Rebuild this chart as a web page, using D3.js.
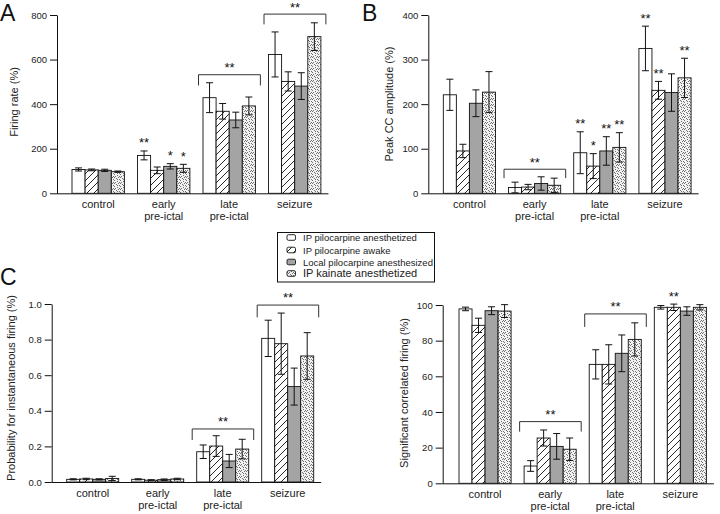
<!DOCTYPE html>
<html><head><meta charset="utf-8">
<script src="https://cdn.jsdelivr.net/npm/d3@7"></script>
<style>body{margin:0;background:#fff}svg{display:block;font-family:"Liberation Sans",Arial,Helvetica,sans-serif}</style>
</head><body>
<svg id="chart" width="720" height="514"></svg>
<script>
// ---------- data ----------
const categories = [["control"], ["early", "pre-ictal"], ["late", "pre-ictal"], ["seizure"]];
const seriesNames = ["IP pilocarpine anesthetized", "IP pilocarpine awake", "Local pilocarpine anesthesized", "IP kainate anesthetized"];

// Panel A: Firing rate (%)
const firingRate    = [[107, 105, 103, 97], [170, 103, 121, 112], [429, 368, 329, 392], [623, 502, 481, 703]];
const firingRateErr = [[7, 4, 5, 3], [20, 15, 12, 18], [67, 35, 35, 40], [101, 43, 60, 62]];
const firingRateTicks = [0, 200, 400, 600, 800];
const firingRateStars = [["", "", "", ""], ["**", "", "*", "*"], ["", "", "", ""], ["", "", "", ""]];
const firingRateBrackets = [{group: 2, top: 532, leg: 484}, {group: 3, top: 804, leg: 758}];

// Panel B: Peak CC amplitude (%)
const peakCC    = [[221, 95, 202, 227], [13, 14, 22, 18], [91, 61, 95, 103], [325, 231, 226, 259]];
const peakCCErr = [[35, 15, 30, 46], [12, 6, 15, 16], [47, 28, 32, 33], [50, 20, 42, 44]];
const peakCCTicks = [0, 100, 200, 300, 400];
const peakCCStars = [["", "", "", ""], ["", "", "", ""], ["**", "*", "**", "**"], ["**", "**", "", "**"]];
const peakCCBrackets = [{group: 1, top: 54, leg: 34}];

// Panel C left: Probability for instantaneous firing
const probInst    = [[0.015, 0.017, 0.015, 0.020], [0.015, 0.010, 0.013, 0.017], [0.170, 0.202, 0.118, 0.185], [0.807, 0.777, 0.536, 0.708]];
const probInstErr = [[0.003, 0.004, 0.003, 0.012], [0.003, 0.003, 0.004, 0.004], [0.038, 0.058, 0.037, 0.055], [0.102, 0.172, 0.104, 0.131]];
const probInstTicks = [0, 0.2, 0.4, 0.6, 0.8, 1.0];
const probInstStars = [["", "", "", ""], ["", "", "", ""], ["", "", "", ""], ["", "", "", ""]];
const probInstBrackets = [{group: 2, top: 0.298, leg: 0.236}, {group: 3, top: 0.994, leg: 0.925}];

// Panel C right: Significant correlated firing (%)
const sigCorr    = [[97.8, 88.6, 96.8, 96.6], [9.7, 25.4, 20.7, 19.1], [66.7, 66.7, 72.9, 80.7], [98.7, 98.7, 96.6, 98.7]];
const sigCorrErr = [[1, 4, 2.2, 3.6], [3, 4.5, 7.2, 6.3], [8.2, 11, 10.3, 9.3], [1, 1.8, 2.4, 1.5]];
const sigCorrTicks = [0, 20, 40, 60, 80, 100];
const sigCorrStars = [["", "", "", ""], ["", "", "", ""], ["", "", "", ""], ["", "**", "", ""]];
const sigCorrBrackets = [{group: 1, top: 34.6, leg: 29}, {group: 2, top: 95, leg: 87.7}];

// ---------- drawing ----------
const svg = d3.select("#chart");
const defs = svg.append("defs");

const hatch = defs.append("pattern").attr("id", "hatch")
  .attr("patternUnits", "userSpaceOnUse").attr("width", 7).attr("height", 7);
hatch.append("rect").attr("width", 7).attr("height", 7).attr("fill", "#fff");
hatch.append("path").attr("d", "M-1.75,1.75 L1.75,-1.75 M0,7 L7,0 M5.25,8.75 L8.75,5.25")
  .attr("stroke", "#111").attr("stroke-width", 0.9);

const dots = defs.append("pattern").attr("id", "dots")
  .attr("patternUnits", "userSpaceOnUse").attr("width", 6).attr("height", 6);
dots.append("rect").attr("width", 6).attr("height", 6).attr("fill", "#f2f2f2");
[[0, 0], [3, 1], [1, 2], [4, 3], [2, 4], [5, 5], [0, 3], [3, 5], [5, 2]].forEach(([dx, dy]) =>
  dots.append("rect").attr("x", dx).attr("y", dy).attr("width", 1).attr("height", 1).attr("fill", "#707070"));

const fills = ["#ffffff", "url(#hatch)", "#a4a4a4", "url(#dots)"];

function drawPanel(p) {
  const g = svg.append("g");
  const y = d3.scaleLinear().domain([0, p.yMax]).range([p.y0, p.yTop]);
  const x = d3.scaleBand().domain(d3.range(categories.length)).range(p.xr).paddingInner(0.2).paddingOuter(0.1);
  const xs = d3.scaleBand().domain(d3.range(seriesNames.length)).range([0, x.bandwidth()]);

  // y axis
  const ya = g.append("g").attr("transform", `translate(${p.ax},0)`)
    .call(d3.axisLeft(y).tickValues(p.ticks).tickFormat(p.fmt).tickSize(7).tickPadding(3).tickSizeOuter(0));
  ya.selectAll("text").attr("font-size", 9.5).attr("fill", "#222").attr("font-family", "Liberation Sans, Arial, sans-serif");
  ya.selectAll("line,path").attr("stroke", "#111");
  // x axis line
  g.append("line").attr("x1", p.ax).attr("x2", p.xr[1] + 1).attr("y1", y(0) + 0.5).attr("y2", y(0) + 0.5)
    .attr("stroke", "#111").attr("stroke-width", 1);

  // category labels
  categories.forEach((lines, i) => {
    const t = g.append("text").attr("text-anchor", "middle").attr("font-size", 11).attr("fill", "#222")
      .attr("x", x(i) + x.bandwidth() / 2).attr("y", y(0) + 15);
    lines.forEach((l, k) => t.append("tspan").attr("x", x(i) + x.bandwidth() / 2).attr("dy", k ? 12 : 0).text(l));
  });

  // y title
  g.append("text").attr("transform", `translate(${p.tx},${p.ty}) rotate(-90)`)
    .attr("text-anchor", "middle").attr("font-size", 11).attr("fill", "#222").text(p.title);

  // bars
  p.values.forEach((row, i) => {
    row.forEach((v, j) => {
      const bx = x(i) + xs(j);
      g.append("rect").attr("x", bx).attr("y", y(v)).attr("width", xs.bandwidth()).attr("height", y(0) - y(v))
        .attr("fill", fills[j]).attr("stroke", "#111").attr("stroke-width", 0.9);
    });
  });
  // error bars
  p.values.forEach((row, i) => {
    row.forEach((v, j) => {
      const cx = x(i) + xs(j) + xs.bandwidth() / 2;
      const e = p.errors[i][j];
      const y1 = y(v + e), y2 = y(v - e);
      const eb = g.append("g").attr("stroke", "#111").attr("stroke-width", 1);
      eb.append("line").attr("x1", cx).attr("x2", cx).attr("y1", y1).attr("y2", y2);
      eb.append("line").attr("x1", cx - 3.5).attr("x2", cx + 3.5).attr("y1", y1).attr("y2", y1);
      eb.append("line").attr("x1", cx - 3.5).attr("x2", cx + 3.5).attr("y1", y2).attr("y2", y2);
      const s = p.stars[i][j];
      if (s) g.append("text").attr("x", cx).attr("y", y1 - 3.6).attr("text-anchor", "middle")
        .attr("font-size", 13).attr("fill", "#111").text(s);
    });
  });
  // brackets
  p.brackets.forEach(b => {
    const x1 = x(b.group) - 4.5, x2 = x(b.group) + x.bandwidth() + 5;
    g.append("path").attr("d", `M${x1},${y(b.leg)}V${y(b.top)}H${x2}V${y(b.leg)}`)
      .attr("fill", "none").attr("stroke", "#333").attr("stroke-width", 1);
    g.append("text").attr("x", (x1 + x2) / 2).attr("y", y(b.top) - 2.6).attr("text-anchor", "middle")
      .attr("font-size", 13).attr("fill", "#111").text("**");
  });
  // panel letter
  if (p.letter) svg.append("text").attr("x", p.letter[1]).attr("y", p.letter[2]).attr("font-size", 23)
    .attr("fill", "#111").text(p.letter[0]);
}

const intFmt = d3.format("d");
drawPanel({values: firingRate, errors: firingRateErr, stars: firingRateStars, brackets: firingRateBrackets,
  yMax: 800, ticks: firingRateTicks, fmt: intFmt, y0: 193.3, yTop: 15, ax: 57, xr: [65.45, 327.45],
  title: "Firing rate (%)", tx: 18, ty: 102, letter: ["A", 0, 21]});
drawPanel({values: peakCC, errors: peakCCErr, stars: peakCCStars, brackets: peakCCBrackets,
  yMax: 400, ticks: peakCCTicks, fmt: intFmt, y0: 193.3, yTop: 15, ax: 428.3, xr: [436.8, 697.6],
  title: "Peak CC amplitude (%)", tx: 393, ty: 104, letter: ["B", 362, 21]});
drawPanel({values: probInst, errors: probInstErr, stars: probInstStars, brackets: probInstBrackets,
  yMax: 1.0, ticks: probInstTicks, fmt: d3.format(".1f"), y0: 482, yTop: 304, ax: 51.7, xr: [60.2, 320.2],
  title: "Probability for instantaneous firing (%)", tx: 14.5, ty: 388, letter: ["C", 0, 285]});
drawPanel({values: sigCorr, errors: sigCorrErr, stars: sigCorrStars, brackets: sigCorrBrackets,
  yMax: 100, ticks: sigCorrTicks, fmt: intFmt, y0: 483.3, yTop: 305, ax: 442.7, xr: [452.5, 712.9],
  title: "Significant correlated firing (%)", tx: 408, ty: 393, letter: null});

// legend
const lg = svg.append("g");
lg.append("rect").attr("x", 277.5).attr("y", 232.5).attr("width", 157).attr("height", 49.5)
  .attr("fill", "#fff").attr("stroke", "#111").attr("stroke-width", 1);
const legendRows = [237.5, 250, 262, 273.5];
seriesNames.forEach((name, j) => {
  lg.append("rect").attr("x", 287).attr("y", legendRows[j] - 2.8).attr("width", 8.5).attr("height", 5.6)
    .attr("rx", 1.5).attr("fill", fills[j]).attr("stroke", "#111").attr("stroke-width", 0.9);
  lg.append("text").attr("x", 303).attr("y", legendRows[j] + 3.5).attr("font-size", j === 3 ? 11 : 9.5)
    .attr("fill", "#222").text(name);
});
</script>
</body></html>
